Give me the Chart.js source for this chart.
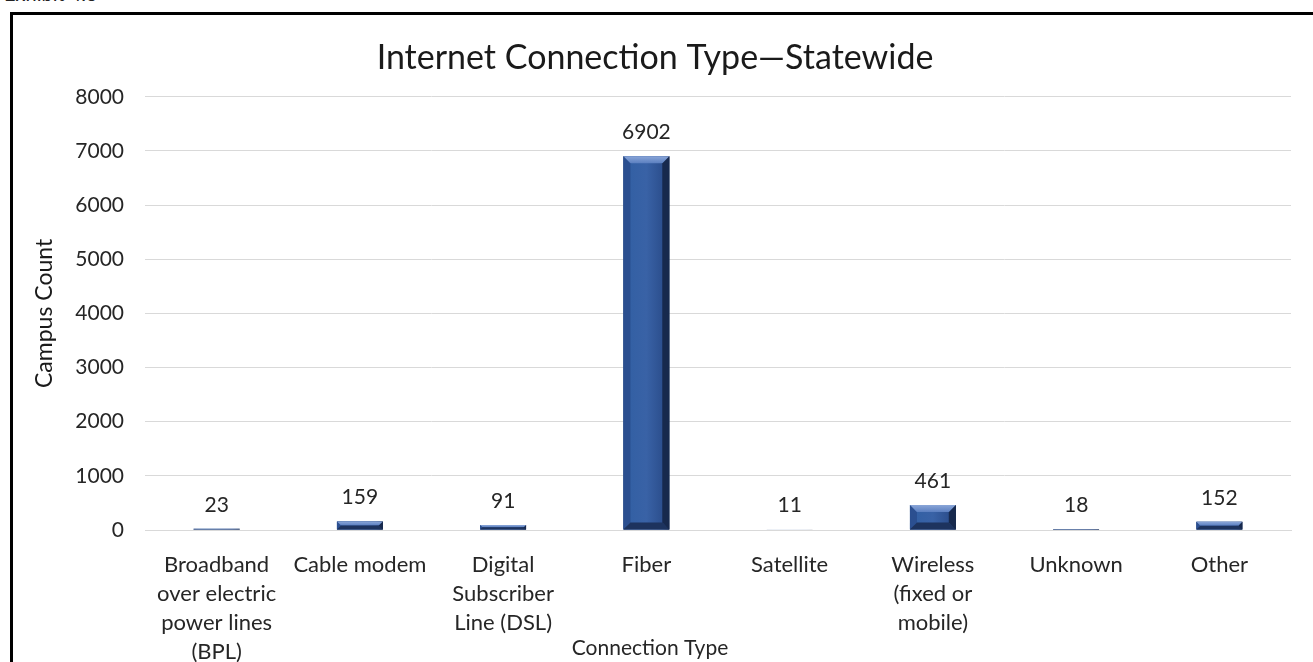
<!DOCTYPE html>
<html>
<head>
<meta charset="utf-8">
<script src="https://cdn.jsdelivr.net/npm/chart.js@4.4.1/dist/chart.umd.min.js"></script>
<style>
  html, body { margin: 0; padding: 0; background: #fff; overflow: hidden; }
  #wrap { position: relative; width: 1313px; height: 662px; overflow: hidden; }
  #chart { position: absolute; left: 0; top: 0; }
  #frame { position: absolute; left: 10px; top: 12px; width: 1330px; height: 700px;
           border: 3px solid #000; pointer-events: none; }
  #exhibit { position: absolute; left: 4px; top: -19px; font: 20px Lato, sans-serif; color: #222; }
</style>
</head>
<body>
<div id="wrap">
  <div id="exhibit">Exhibit 4.3</div>
  <canvas id="chart" width="1313" height="662"></canvas>
  <div id="frame"></div>
</div>
<script>
// datos de la gráfica
const categories = [
  ['Broadband', 'over electric', 'power lines', '(BPL)'],
  'Cable modem',
  ['Digital', 'Subscriber', 'Line (DSL)'],
  'Fiber',
  'Satellite',
  ['Wireless', '(fixed or', 'mobile)'],
  'Unknown',
  'Other'
];
const campusCounts = [23, 159, 91, 6902, 11, 461, 18, 152];
const yMin = 0, yMax = 8000, yStep = 1000;

const chartTitle = 'Internet Connection Type\u2014Statewide';
const xTitle = 'Connection Type';
const yTitle = 'Campus Count';

const FONT = 'Lato, "Open Sans", sans-serif';

// barras con efecto biselado
const bevelPlugin = {
  id: 'bevel',
  afterDatasetsDraw(chart) {
    const ctx = chart.ctx;
    chart.getDatasetMeta(0).data.forEach(bar => {
      const p = bar.getProps(['x', 'y', 'base', 'width'], true);
      const l = p.x - p.width / 2, r = p.x + p.width / 2;
      const t = Math.min(p.y, p.base), b = Math.max(p.y, p.base);
      const h = b - t;
      const bv = Math.min(7, h / 2);
      ctx.save();
      let g = ctx.createLinearGradient(l, 0, r, 0);
      g.addColorStop(0, '#22407a');
      g.addColorStop(0.12, '#3360a4');
      g.addColorStop(0.5, '#3962a6');
      g.addColorStop(0.85, '#2c4f8e');
      g.addColorStop(1, '#0f1c36');
      ctx.fillStyle = g;
      ctx.fillRect(l, t, r - l, h);
      // lado izquierdo
      ctx.fillStyle = '#2b4f90';
      ctx.beginPath();
      ctx.moveTo(l, t); ctx.lineTo(l + bv, t + bv); ctx.lineTo(l + bv, b - bv); ctx.lineTo(l, b);
      ctx.closePath(); ctx.fill();
      // lado derecho
      ctx.fillStyle = '#17294d';
      ctx.beginPath();
      ctx.moveTo(r, t); ctx.lineTo(r - bv, t + bv); ctx.lineTo(r - bv, b - bv); ctx.lineTo(r, b);
      ctx.closePath(); ctx.fill();
      // arriba
      let gt = ctx.createLinearGradient(0, t, 0, t + bv + 0.01);
      gt.addColorStop(0, '#8aa6d8');
      gt.addColorStop(1, '#5b7fc0');
      ctx.fillStyle = h < 3 ? '#d3dbe9' : gt;
      ctx.beginPath();
      ctx.moveTo(l, t); ctx.lineTo(r, t); ctx.lineTo(r - bv, t + bv); ctx.lineTo(l + bv, t + bv);
      ctx.closePath(); ctx.fill();
      // abajo
      ctx.fillStyle = '#1d335e';
      ctx.beginPath();
      ctx.moveTo(l, b); ctx.lineTo(r, b); ctx.lineTo(r - bv, b - bv); ctx.lineTo(l + bv, b - bv);
      ctx.closePath(); ctx.fill();
      ctx.restore();
    });
  }
};

// etiquetas de valores y título del eje X
const labelPlugin = {
  id: 'labels',
  afterDraw(chart) {
    const ctx = chart.ctx;
    ctx.save();
    ctx.fillStyle = '#262626';
    ctx.font = '21px ' + FONT;
    ctx.textAlign = 'center';
    ctx.textBaseline = 'alphabetic';
    const data = chart.data.datasets[0].data;
    chart.getDatasetMeta(0).data.forEach((bar, i) => {
      ctx.fillText(String(data[i]), bar.x, bar.y - 17);
    });
    ctx.font = '21px ' + FONT;
    ctx.textBaseline = 'middle';
    ctx.fillText(xTitle, 650, 648);
    ctx.restore();
  }
};

new Chart(document.getElementById('chart'), {
  type: 'bar',
  data: {
    labels: categories,
    datasets: [{
      data: campusCounts,
      backgroundColor: '#2f5597',
      borderWidth: 0,
      categoryPercentage: 1,
      barPercentage: 0.32
    }]
  },
  options: {
    responsive: false,
    animation: false,
    devicePixelRatio: 1,
    layout: { padding: { left: 19, right: 22, top: 0, bottom: 0 } },
    plugins: {
      legend: { display: false },
      tooltip: { enabled: false },
      title: {
        display: true,
        text: chartTitle,
        color: '#1a1a1a',
        font: { family: FONT, size: 34, weight: 'normal', lineHeight: 1.2 },
        padding: { top: 38, bottom: 18 }
      }
    },
    scales: {
      x: {
        grid: { display: false, drawTicks: false },
        border: { display: true, color: '#d9d9d9', width: 1 },
        ticks: {
          color: '#262626',
          font: { family: FONT, size: 22, lineHeight: 1.32 },
          padding: 20,
          maxRotation: 0,
          autoSkip: false
        },
        afterFit(scale) { scale.height = 132; }
      },
      y: {
        min: yMin,
        max: yMax,
        grid: { color: '#d9d9d9', lineWidth: 1, drawTicks: false },
        border: { display: false },
        ticks: {
          stepSize: yStep,
          color: '#262626',
          font: { family: FONT, size: 21 },
          padding: 21,
          callback: v => String(v)
        },
        title: {
          display: true,
          text: yTitle,
          color: '#1a1a1a',
          font: { family: FONT, size: 23 },
          padding: { top: 12, bottom: 0 }
        },
        afterFit(scale) { scale.width = 126; }
      }
    }
  },
  plugins: [bevelPlugin, labelPlugin]
});
</script>
</body>
</html>
